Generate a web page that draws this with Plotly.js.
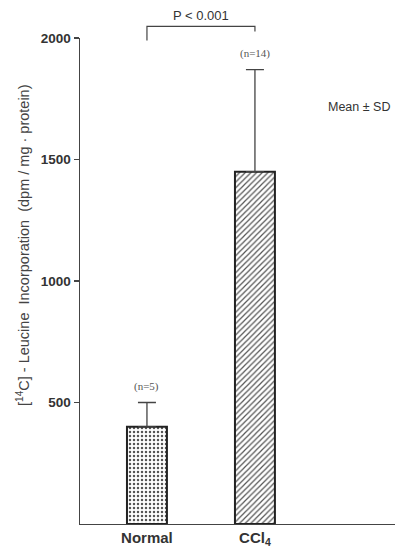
<!DOCTYPE html>
<html><head><meta charset="utf-8">
<script src="https://cdn.plot.ly/plotly-3.0.1.min.js"></script>
<style>html,body{margin:0;padding:0;background:#fff}</style>
</head><body><div id="chart" style="width:399px;height:552px"></div>
<script>
var categories = ['Normal', 'CCl<sub>4</sub>'];
var means = [400, 1450];
var sds = [100, 420];
var nLabels = ['(n=5)', '(n=14)'];
var patterns = ['.', '/'];
var yTicks = [500, 1000, 1500, 2000];
var bracketY = [1990, 2048, 2048, 2027];
var pLabel = 'P < 0.001';

var xRange = [-0.62, 2.297];
var yRange = [0, 2000];
function xp(i) { return (i - xRange[0]) / (xRange[1] - xRange[0]); }
function yp(v) { return (v - yRange[0]) / (yRange[1] - yRange[0]); }

var txt = '#333';
var sans = 'Liberation Sans, Arial, sans-serif';
var bar = {
  type: 'bar', x: categories, y: means, width: 0.37,
  marker: {color: '#fff', line: {color: '#222', width: 2},
    pattern: {shape: patterns, fgcolor: '#555', bgcolor: '#fff', size: 4, solidity: 0.3}},
  error_y: {type: 'data', symmetric: false, array: sds, arrayminus: [0, 0], color: '#444', thickness: 1.3, width: 9},
  hoverinfo: 'none'
};
var shapes = [
  {type: 'path', xref: 'paper', yref: 'paper',
   path: 'M' + xp(0) + ',' + yp(bracketY[0]) + ' L' + xp(0) + ',' + yp(bracketY[1]) +
         ' L' + xp(1) + ',' + yp(bracketY[2]) + ' L' + xp(1) + ',' + yp(bracketY[3]),
   line: {color: '#444', width: 1.2}}
];
var annotations = categories.map(function (c, i) {
  return {x: c, y: means[i] + sds[i], xref: 'x', yref: 'y', text: nLabels[i], showarrow: false,
    yanchor: 'bottom', yshift: 8, font: {family: 'Liberation Serif, serif', size: 11, color: '#555'}};
});
annotations.push({x: xp(0.5), y: yp(bracketY[1]), xref: 'paper', yref: 'paper', text: pLabel, showarrow: false,
  xanchor: 'center', yanchor: 'bottom', yshift: 1, font: {family: sans, size: 13, color: txt}});
annotations.push({x: 0.885, y: 0.876, xref: 'paper', yref: 'paper', text: 'Mean ± SD', showarrow: false,
  xanchor: 'center', font: {family: sans, size: 12.5, color: txt}});
annotations.push({x: -0.181, y: 0.574, xref: 'paper', yref: 'paper', textangle: -90, showarrow: false,
  xanchor: 'center', yanchor: 'middle',
  text: '[<sup>14</sup>C] - Leucine  Incorporation  (dpm / mg · protein)',
  font: {family: sans, size: 14.5, color: '#444'}});

var layout = {
  width: 399, height: 552,
  margin: {l: 80, r: 4, t: 38, b: 28},
  paper_bgcolor: '#fff', plot_bgcolor: '#fff',
  showlegend: false,
  font: {family: sans, color: txt},
  xaxis: {range: xRange, showgrid: false, zeroline: false, showline: true, linecolor: '#444', linewidth: 1.3,
    ticks: '', tickfont: {size: 15, color: txt, weight: 'bold'}, ticklabelstandoff: 0, fixedrange: true},
  yaxis: {range: yRange, showgrid: false, zeroline: false, showline: true, linecolor: '#444', linewidth: 1.5,
    ticks: 'outside', ticklen: 5, tickwidth: 1.3, tickcolor: '#444', tickvals: yTicks,
    tickfont: {size: 13.5, color: txt, weight: 'bold'}},
  shapes: shapes,
  annotations: annotations
};
Plotly.newPlot('chart', [bar], layout, {displayModeBar: false, staticPlot: true});
</script></body></html>
